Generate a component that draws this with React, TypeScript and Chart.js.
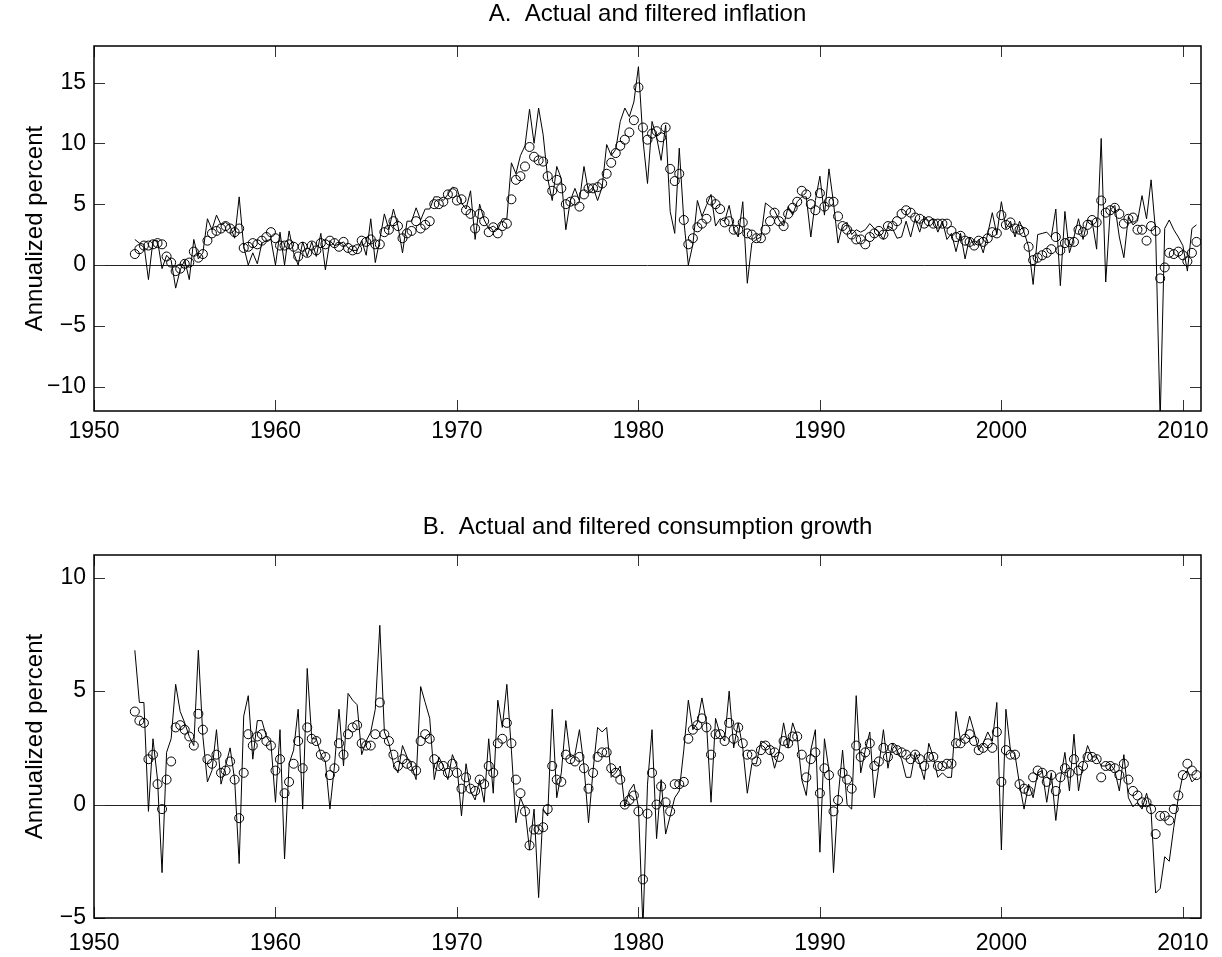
import React, { useEffect, useRef } from 'react';
import { Chart, registerables } from 'chart.js';

Chart.register(...registerables);

// Quarterly observations, first one at 1952 Q2, one value per quarter.
const START_YEAR = 1952.25;
const QUARTER_STEP = 0.25;

const inflationActual = [
  2.1, 1.8, 1.7, // 1952
  -1.2, 2.0, 2.0, -0.3, // 1953
  0.8, 0.4, -1.9, -0.4, // 1954
  0.4, -1.2, 2.1, 0.5, // 1955
  1.0, 3.8, 2.9, 4.1, // 1956
  3.3, 3.5, 3.2, 2.2, // 1957
  5.6, 1.5, 0.0, 1.0, // 1958
  0.1, 1.8, 2.0, 2.1, // 1959
  0.0, 2.7, 0.0, 2.8, // 1960
  1.0, 0.0, 1.9, 0.7, // 1961
  1.9, 0.7, 2.6, -0.4, // 1962
  2.0, 1.6, 1.7, 1.9, // 1963
  1.4, 1.2, 1.2, 2.0, // 1964
  0.8, 3.8, 0.2, 2.1, // 1965
  4.2, 2.9, 4.6, 3.2, // 1966
  1.0, 3.6, 3.6, 4.7, // 1967
  3.7, 4.6, 4.6, 5.6, // 1968
  5.6, 5.3, 5.8, 6.4, // 1969
  6.3, 5.1, 4.6, 6.1, // 1970
  2.1, 5.0, 3.7, 3.0, // 1971
  3.2, 2.9, 3.8, 3.8, // 1972
  8.4, 7.5, 9.0, 9.8, // 1973
  12.8, 10.0, 12.9, 10.7, // 1974
  7.1, 5.3, 8.1, 7.1, // 1975
  2.9, 5.3, 6.3, 5.3, // 1976
  8.1, 6.0, 6.4, 5.3, // 1977
  6.4, 9.9, 9.0, 9.5, // 1978
  11.8, 12.9, 12.2, 13.4, // 1979
  16.3, 10.3, 6.7, 11.8, // 1980
  10.5, 8.6, 11.5, 4.4, // 1981
  2.6, 9.6, 3.7, 0.0, // 1982
  1.7, 5.3, 4.0, 4.9, // 1983
  5.8, 3.2, 3.8, 3.6, // 1984
  4.9, 3.0, 2.3, 5.2, // 1985
  -1.5, 1.8, 2.1, 2.3, // 1986
  5.1, 4.8, 4.5, 3.7, // 1987
  3.2, 4.8, 4.1, 5.2, // 1988
  5.6, 5.6, 2.3, 5.3, // 1989
  7.3, 4.1, 7.9, 5.1, // 1990
  1.8, 3.3, 3.5, 2.5, // 1991
  2.9, 2.7, 2.9, 3.4, // 1992
  3.0, 2.7, 2.1, 3.2, // 1993
  3.0, 2.2, 2.3, 3.6, // 1994
  2.3, 3.8, 2.7, 4.0, // 1995
  3.6, 3.8, 2.7, 3.6, // 1996
  2.1, 2.6, 1.1, 2.6, // 1997
  0.5, 2.3, 1.6, 2.1, // 1998
  1.0, 2.6, 4.3, 2.5, // 1999
  5.2, 3.0, 3.6, 2.3, // 2000
  3.6, 2.7, 1.5, -1.6, // 2001
  2.5, 2.6, 2.7, 2.3, // 2002
  4.6, -1.7, 4.4, 1.0, // 2003
  2.3, 3.8, 2.1, 3.7, // 2004
  3.6, 1.3, 10.4, -1.4, // 2005
  4.5, 4.9, 2.3, 0.6, // 2006
  4.0, 3.3, 3.6, 5.7, // 2007
  3.8, 7.0, 2.7, -12.8, // 2008
  3.0, 3.7, 2.9, 2.3, // 2009
  1.6, -0.5, 3.0, 3.3, // 2010
];

const inflationFiltered = [
  0.9, 1.3, 1.6, // 1952
  1.6, 1.7, 1.8, 1.7, // 1953
  0.7, 0.2, -0.5, -0.3, // 1954
  0.1, 0.2, 1.1, 0.6, // 1955
  0.9, 2.0, 2.6, 2.8, // 1956
  3.0, 3.2, 3.0, 2.7, // 1957
  3.0, 1.4, 1.5, 1.8, // 1958
  1.7, 2.0, 2.3, 2.7, // 1959
  2.2, 1.6, 1.6, 1.7, // 1960
  1.5, 0.7, 1.5, 1.0, // 1961
  1.6, 1.2, 1.8, 1.7, // 1962
  2.0, 1.8, 1.5, 1.9, // 1963
  1.4, 1.2, 1.3, 2.0, // 1964
  1.9, 2.1, 1.7, 1.7, // 1965
  2.7, 2.9, 3.6, 3.2, // 1966
  2.2, 2.6, 2.8, 3.6, // 1967
  3.0, 3.3, 3.6, 5.0, // 1968
  5.0, 5.2, 5.8, 5.9, // 1969
  5.3, 5.4, 4.5, 4.2, // 1970
  3.0, 4.2, 3.6, 2.7, // 1971
  3.1, 2.6, 3.2, 3.4, // 1972
  5.4, 7.0, 7.3, 8.1, // 1973
  9.7, 8.9, 8.6, 8.5, // 1974
  7.3, 6.1, 7.0, 6.3, // 1975
  5.0, 5.2, 5.3, 4.8, // 1976
  5.8, 6.3, 6.3, 6.4, // 1977
  6.7, 7.5, 8.4, 9.2, // 1978
  9.8, 10.3, 10.9, 11.9, // 1979
  14.6, 11.3, 10.3, 10.8, // 1980
  11.0, 10.5, 11.3, 7.9, // 1981
  6.9, 7.5, 3.7, 1.7, // 1982
  2.2, 3.1, 3.4, 3.8, // 1983
  5.3, 5.0, 4.6, 3.5, // 1984
  3.6, 2.9, 2.9, 3.5, // 1985
  2.6, 2.5, 2.2, 2.2, // 1986
  2.9, 3.6, 4.3, 3.6, // 1987
  3.2, 4.2, 4.7, 5.2, // 1988
  6.1, 5.8, 5.0, 4.5, // 1989
  5.9, 4.8, 5.2, 5.2, // 1990
  4.0, 3.2, 2.9, 2.5, // 1991
  2.1, 2.1, 1.7, 2.3, // 1992
  2.6, 2.8, 2.5, 3.2, // 1993
  3.2, 3.6, 4.2, 4.5, // 1994
  4.3, 3.9, 3.8, 3.4, // 1995
  3.6, 3.4, 3.4, 3.4, // 1996
  3.4, 2.8, 2.3, 2.4, // 1997
  2.0, 1.9, 1.6, 2.0, // 1998
  1.9, 2.2, 2.7, 2.6, // 1999
  4.1, 3.3, 3.5, 3.0, // 2000
  2.9, 2.7, 1.5, 0.4, // 2001
  0.6, 0.8, 1.0, 1.3, // 2002
  2.3, 1.2, 1.8, 1.9, // 2003
  1.9, 2.9, 2.7, 3.3, // 2004
  3.7, 3.5, 5.3, 4.3, // 2005
  4.5, 4.7, 4.2, 3.4, // 2006
  3.8, 3.9, 2.9, 2.9, // 2007
  2.0, 3.2, 2.8, -1.1, // 2008
  -0.2, 1.0, 0.9, 1.1, // 2009
  0.8, 0.3, 1.0, 1.9, // 2010
];

const consumptionActual = [
  6.8, 4.5, 4.5, // 1952
  -0.3, 2.9, 1.1, -3.0, // 1953
  2.3, 2.9, 5.3, 4.1, // 1954
  3.6, 3.0, 2.6, 6.8, // 1955
  3.0, 1.0, 1.5, 3.3, // 1956
  0.9, 1.7, 2.5, 1.1, // 1957
  -2.6, 3.9, 4.8, 2.0, // 1958
  3.7, 3.7, 3.0, 2.7, // 1959
  0.1, 3.3, -2.4, 1.8, // 1960
  2.4, 4.2, -0.2, 6.0, // 1961
  2.9, 2.9, 2.2, 1.9, // 1962
  -0.2, 1.7, 4.2, 1.7, // 1963
  4.9, 4.6, 4.4, 2.2, // 1964
  2.8, 3.2, 4.2, 7.9, // 1965
  3.2, 2.7, 1.8, 1.4, // 1966
  2.6, 2.1, 1.7, 1.1, // 1967
  5.2, 4.5, 3.8, 1.1, // 1968
  2.1, 1.7, 1.1, 2.2, // 1969
  1.7, -0.5, 1.8, 0.6, // 1970
  0.2, 1.1, 0.1, 2.9, // 1971
  0.5, 4.6, 3.4, 5.3, // 1972
  2.4, -0.8, 0.3, -0.2, // 1973
  -2.0, -0.2, -4.1, -0.2, // 1974
  -0.5, 4.2, 0.3, 1.4, // 1975
  3.7, 2.1, 2.2, 3.3, // 1976
  1.7, -0.8, 1.5, 3.4, // 1977
  3.2, 3.4, 1.2, 1.4, // 1978
  1.7, -0.1, 0.6, 0.9, // 1979
  -0.1, -5.4, 0.9, 3.3, // 1980
  -1.5, 1.1, -1.3, -0.5, // 1981
  0.3, 0.6, 2.4, 4.6, // 1982
  3.3, 3.6, 4.7, 3.6, // 1983
  0.1, 3.8, 3.1, 2.8, // 1984
  5.0, 2.5, 3.6, 2.5, // 1985
  0.5, 1.8, 1.8, 2.8, // 1986
  2.7, 2.5, 1.6, 2.3, // 1987
  3.6, 2.5, 3.6, 3.0, // 1988
  1.1, 0.4, 2.4, 3.3, // 1989
  -2.1, 2.9, 1.5, -3.0, // 1990
  0.3, 2.4, 0.0, -0.2, // 1991
  4.8, 1.4, 2.4, 3.2, // 1992
  0.3, 1.7, 3.3, 1.6, // 1993
  2.7, 2.4, 2.0, 1.2, // 1994
  1.2, 2.3, 1.8, 1.1, // 1995
  2.7, 2.1, 1.2, 1.4, // 1996
  1.2, 1.2, 4.1, 2.8, // 1997
  3.0, 3.9, 3.2, 2.4, // 1998
  2.7, 3.2, 2.8, 4.5, // 1999
  -2.0, 4.2, 2.4, 2.2, // 2000
  0.9, -0.2, 0.9, 0.3, // 2001
  1.4, 1.5, 0.1, 1.4, // 2002
  -0.7, 1.1, 2.3, 0.6, // 2003
  3.1, 0.6, 1.8, 2.6, // 2004
  2.1, 2.1, 1.7, 1.7, // 2005
  1.8, 1.5, 0.6, 2.2, // 2006
  0.3, -0.1, 0.1, -0.2, // 2007
  0.5, -0.3, -3.9, -3.7, // 2008
  -2.3, -2.5, -1.0, 0.3, // 2009
  1.3, 1.5, 1.0, 1.2, // 2010
];

const consumptionFiltered = [
  4.1, 3.7, 3.6, // 1952
  2.0, 2.2, 0.9, -0.2, // 1953
  1.1, 1.9, 3.4, 3.5, // 1954
  3.3, 3.0, 2.6, 4.0, // 1955
  3.3, 2.0, 1.8, 2.2, // 1956
  1.4, 1.5, 1.9, 1.1, // 1957
  -0.6, 1.4, 3.1, 2.6, // 1958
  3.0, 3.1, 2.8, 2.6, // 1959
  1.5, 2.0, 0.5, 1.0, // 1960
  1.8, 2.8, 1.6, 3.4, // 1961
  2.9, 2.8, 2.2, 2.1, // 1962
  1.3, 1.6, 2.7, 2.2, // 1963
  3.1, 3.4, 3.5, 2.7, // 1964
  2.6, 2.6, 3.1, 4.5, // 1965
  3.1, 2.8, 2.2, 1.7, // 1966
  2.0, 1.8, 1.7, 1.5, // 1967
  2.8, 3.1, 2.9, 2.0, // 1968
  1.7, 1.7, 1.4, 1.8, // 1969
  1.4, 0.7, 1.2, 0.7, // 1970
  0.6, 1.1, 0.9, 1.7, // 1971
  1.4, 2.7, 2.9, 3.6, // 1972
  2.7, 1.1, 0.5, -0.3, // 1973
  -1.8, -1.1, -1.1, -1.0, // 1974
  -0.2, 1.7, 1.1, 1.0, // 1975
  2.2, 2.0, 1.9, 2.1, // 1976
  1.6, 0.7, 1.4, 2.1, // 1977
  2.3, 2.3, 1.6, 1.4, // 1978
  1.1, 0.0, 0.2, 0.4, // 1979
  -0.3, -3.3, -0.4, 1.4, // 1980
  0.0, 0.8, 0.1, -0.3, // 1981
  0.9, 0.9, 1.0, 2.9, // 1982
  3.3, 3.5, 3.8, 3.4, // 1983
  2.2, 3.1, 3.1, 2.8, // 1984
  3.6, 2.9, 3.4, 2.7, // 1985
  2.2, 2.2, 1.9, 2.4, // 1986
  2.6, 2.4, 2.3, 2.1, // 1987
  2.8, 2.7, 3.0, 3.0, // 1988
  2.2, 1.2, 2.0, 2.3, // 1989
  0.5, 1.6, 1.3, -0.3, // 1990
  0.2, 1.4, 1.1, 0.7, // 1991
  2.6, 2.1, 2.3, 2.7, // 1992
  1.7, 1.9, 2.5, 2.1, // 1993
  2.5, 2.4, 2.3, 2.2, // 1994
  2.0, 2.2, 2.0, 1.7, // 1995
  2.1, 2.1, 1.7, 1.7, // 1996
  1.8, 1.8, 2.7, 2.7, // 1997
  2.9, 3.1, 2.8, 2.4, // 1998
  2.5, 2.7, 2.5, 3.2, // 1999
  1.0, 2.4, 2.2, 2.2, // 2000
  0.9, 0.7, 0.6, 1.2, // 2001
  1.5, 1.4, 1.0, 1.3, // 2002
  0.6, 1.2, 1.6, 1.4, // 2003
  2.0, 1.5, 1.7, 2.1, // 2004
  2.1, 2.0, 1.2, 1.7, // 2005
  1.7, 1.6, 1.3, 1.8, // 2006
  1.1, 0.6, 0.4, 0.1, // 2007
  0.1, -0.2, -1.3, -0.5, // 2008
  -0.5, -0.7, -0.2, 0.4, // 2009
  1.3, 1.8, 1.5, 1.3, // 2010
];

const xTicks = [1950, 1960, 1970, 1980, 1990, 2000, 2010];
const yTicksA = [-10, -5, 0, 5, 10, 15];
const yTicksB = [-5, 0, 5, 10];

const titleA = 'A.  Actual and filtered inflation';
const titleB = 'B.  Actual and filtered consumption growth';
const yLabel = 'Annualized percent';

const FONT = '"Liberation Sans", Arial, Helvetica, sans-serif';

const toPoints = (vals: number[]) =>
  vals.map((v, i) => ({ x: START_YEAR + i * QUARTER_STEP, y: v }));

const fmt = (v: number) => (v < 0 ? '\u2212' + Math.abs(v) : String(v));

const framePlugin = {
  id: 'frame',
  beforeDatasetsDraw(chart: any) {
    const { ctx, chartArea: a, scales } = chart;
    const y0 = Math.round(scales.y.getPixelForValue(0)) + 0.5;
    ctx.save();
    ctx.strokeStyle = '#222';
    ctx.lineWidth = 1;
    ctx.beginPath();
    ctx.moveTo(a.left, y0);
    ctx.lineTo(a.right, y0);
    ctx.stroke();
    ctx.restore();
  },
  afterDatasetsDraw(chart: any, _args: any, opts: any) {
    const { ctx, chartArea: a, scales } = chart;
    const TL = 11;
    ctx.save();
    ctx.strokeStyle = '#333';
    ctx.lineWidth = 1;
    ctx.beginPath();
    scales.x.ticks.forEach((t: any) => {
      const px = Math.round(scales.x.getPixelForValue(t.value)) + 0.5;
      ctx.moveTo(px, a.bottom);
      ctx.lineTo(px, a.bottom - TL);
      ctx.moveTo(px, a.top);
      ctx.lineTo(px, a.top + TL);
    });
    scales.y.ticks.forEach((t: any) => {
      const py = Math.round(scales.y.getPixelForValue(t.value)) + 0.5;
      ctx.moveTo(a.left, py);
      ctx.lineTo(a.left + TL, py);
      ctx.moveTo(a.right, py);
      ctx.lineTo(a.right - TL, py);
    });
    ctx.stroke();
    ctx.strokeStyle = '#000';
    ctx.lineWidth = 1.5;
    ctx.strokeRect(a.left, a.top, a.right - a.left, a.bottom - a.top);
    ctx.fillStyle = '#000';
    ctx.font = `24px ${FONT}`;
    ctx.textAlign = 'center';
    ctx.textBaseline = 'middle';
    ctx.fillText(opts.title, (a.left + a.right) / 2, opts.titleY);
    ctx.restore();
  },
};

type PanelProps = {
  top: number;
  height: number;
  padTop: number;
  xAxisH: number;
  xPad: number;
  yMin: number;
  yMax: number;
  yTicks: number[];
  title: string;
  titleY: number;
  actual: number[];
  filtered: number[];
};

function Panel(p: PanelProps) {
  const ref = useRef<HTMLCanvasElement | null>(null);
  useEffect(() => {
    if (!ref.current) return;
    const chart = new Chart(ref.current, {
      type: 'scatter',
      data: {
        datasets: [
          {
            data: toPoints(p.actual),
            showLine: true,
            borderColor: '#000',
            borderWidth: 1,
            pointRadius: 0,
            tension: 0,
          },
          {
            data: toPoints(p.filtered),
            showLine: false,
            pointStyle: 'circle',
            pointRadius: 4.5,
            pointBorderWidth: 1,
            pointBorderColor: '#000',
            pointBackgroundColor: 'rgba(0,0,0,0)',
          },
        ],
      },
      options: {
        responsive: false,
        animation: false,
        devicePixelRatio: 1,
        layout: { padding: { top: p.padTop, right: 21, left: 0, bottom: 0 } },
        plugins: {
          legend: { display: false },
          tooltip: { enabled: false },
          frame: { title: p.title, titleY: p.titleY },
        } as any,
        scales: {
          x: {
            type: 'linear',
            min: 1950,
            max: 2011,
            grid: { display: false, drawTicks: false },
            border: { display: false },
            afterBuildTicks: (s: any) => {
              s.ticks = xTicks.map((v) => ({ value: v }));
            },
            afterFit: (s: any) => {
              s.height = p.xAxisH;
            },
            ticks: {
              autoSkip: false,
              maxRotation: 0,
              padding: p.xPad,
              color: '#000',
              font: { family: FONT, size: 23 },
              callback: (v: any) => String(v),
            },
          },
          y: {
            type: 'linear',
            min: p.yMin,
            max: p.yMax,
            grid: { display: false, drawTicks: false },
            border: { display: false },
            afterBuildTicks: (s: any) => {
              s.ticks = p.yTicks.map((v) => ({ value: v }));
            },
            afterFit: (s: any) => {
              s.width = 94;
            },
            ticks: {
              padding: 8,
              color: '#000',
              font: { family: FONT, size: 23 },
              callback: (v: any) => fmt(Number(v)),
            },
            title: {
              display: true,
              text: yLabel,
              color: '#000',
              font: { family: FONT, size: 24 },
              padding: { top: 21, bottom: 0 },
            },
          },
        },
      } as any,
      plugins: [framePlugin],
    });
    return () => chart.destroy();
  }, []);
  return (
    <canvas
      ref={ref}
      width={1222}
      height={p.height}
      style={{ position: 'absolute', left: 0, top: p.top, width: 1222, height: p.height, display: 'block' }}
    />
  );
}

export default function App() {
  return (
    <div style={{ position: 'absolute', left: 0, top: 0, width: 1222, height: 957, background: '#fff', overflow: 'hidden' }}>
      <Panel
        top={0}
        height={480}
        padTop={46}
        xAxisH={69}
        xPad={7}
        yMin={-12}
        yMax={18}
        yTicks={yTicksA}
        title={titleA}
        titleY={14.5}
        actual={inflationActual}
        filtered={inflationFiltered}
      />
      <Panel
        top={480}
        height={477}
        padTop={75}
        xAxisH={39}
        xPad={12}
        yMin={-5}
        yMax={11}
        yTicks={yTicksB}
        title={titleB}
        titleY={47}
        actual={consumptionActual}
        filtered={consumptionFiltered}
      />
    </div>
  );
}
